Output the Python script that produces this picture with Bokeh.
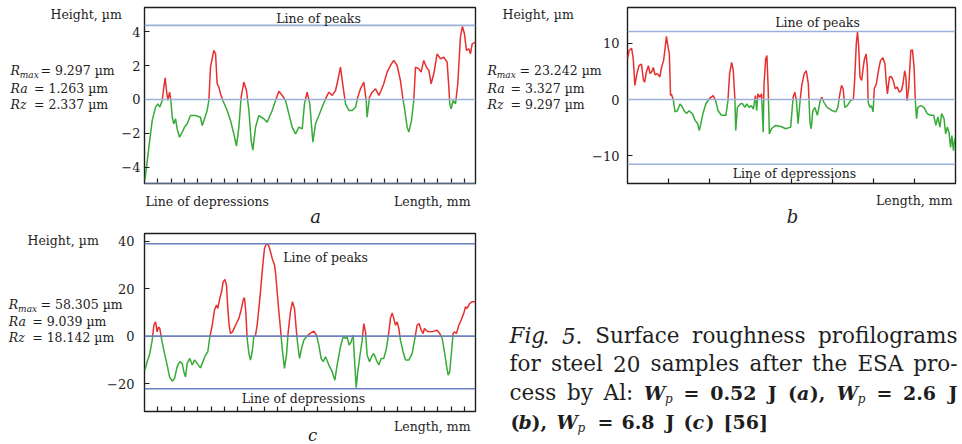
from bokeh.plotting import figure
from bokeh.models import Range1d, Label, FixedTicker, Span, Spacer
from bokeh.layouts import column, row
from bokeh.embed import file_html
from bokeh.resources import INLINE

# ---------------- data ----------------
a_x = [0.03, 0.33, 0.58, 0.83, 1.00, 1.15, 1.33, 1.45, 1.55, 1.65, 1.75, 1.88, 1.98, 2.08, 2.20, 2.33, 2.45, 2.63, 2.83, 3.00,
       3.20, 3.45, 3.83, 4.20, 4.33, 4.50, 4.70, 4.83, 4.95, 5.20, 5.33, 5.45, 5.58, 5.70, 5.88, 6.20, 6.45, 6.70, 6.90, 7.08,
       7.25, 7.45, 7.65, 7.83, 8.00, 8.13, 8.33, 8.58, 8.95, 9.20, 9.58, 9.83, 10.08, 10.33, 10.58, 10.83, 11.08, 11.33, 11.58, 11.83,
       12.00, 12.20, 12.40, 12.50, 12.63, 12.83, 13.08, 13.33, 13.58, 13.83, 14.08, 14.33, 14.50, 14.70, 14.90, 15.08, 15.33, 15.58, 15.83, 16.00,
       16.20, 16.45, 16.63, 16.70, 16.88, 17.08, 17.33, 17.58, 17.75, 17.95, 18.20, 18.45, 18.70, 18.95, 19.20, 19.40, 19.53, 19.70, 19.83, 20.03,
       20.20, 20.33, 20.58, 20.75, 20.95, 21.15, 21.33, 21.50, 21.70, 21.95, 22.20, 22.45, 22.70, 22.83, 22.90, 23.00, 23.15, 23.33, 23.50, 23.70,
       23.85, 24.00, 24.15, 24.33, 24.45, 24.58, 24.83]
a_y = [-4.79, -2.82, -1.24, -0.45, -0.26, -0.45, -0.06, 0.73, 1.28, 0.53, -0.06, 0.43, -0.06, -1.05, -1.44, -1.14, -1.74, -2.23, -1.93, -1.64,
       -1.44, -0.95, -0.95, -1.05, -1.54, -1.14, -0.65, -0.06, 1.91, 2.90, 2.70, 0.93, 0.73, 0.34, -0.06, -0.65, -1.24, -2.03, -2.75, -1.64,
       0.14, 1.03, 0.53, -0.65, -2.43, -3.00, -1.64, -0.95, -1.14, -1.34, -0.65, -0.06, 0.49, 0.24, -0.06, -0.85, -1.64, -2.03, -1.64, -1.74,
       -0.26, 0.43, -0.26, -1.24, -2.52, -1.44, -0.95, -0.45, 0.04, 0.43, 0.24, 0.53, 1.12, 1.91, 0.73, -0.26, -0.65, -0.65, -0.45, 0.14,
       0.63, 1.03, -0.06, -1.05, 0.14, 0.43, 0.63, 0.24, 0.53, 0.93, 1.62, 2.01, 2.31, 2.01, 1.12, -0.06, -0.65, -1.64, -1.93, -1.24,
       -0.06, 1.91, 1.81, 1.62, 2.31, 1.91, 1.72, 0.93, 1.52, 2.70, 2.41, 2.50, 2.21, 0.73, -0.26, -0.55, -0.06, -0.26, 0.93, 3.69,
       4.32, 3.89, 2.90, 3.00, 2.70, 3.29, 3.39]

b_x = [0.00, 0.04, 0.10, 0.14, 0.18, 0.23, 0.28, 0.34, 0.39, 0.42, 0.46, 0.51, 0.55, 0.59, 0.63, 0.67, 0.73, 0.79, 0.83, 0.88,
       0.91, 0.95, 0.99, 1.02, 1.05, 1.07, 1.12, 1.16, 1.22, 1.28, 1.32, 1.38, 1.44, 1.50, 1.58, 1.65, 1.71, 1.75, 1.79, 1.84,
       1.91, 1.99, 2.09, 2.15, 2.21, 2.29, 2.40, 2.45, 2.49, 2.54, 2.58, 2.62, 2.64, 2.68, 2.75, 2.80, 2.86, 2.91, 2.97, 3.02,
       3.07, 3.12, 3.15, 3.18, 3.23, 3.27, 3.31, 3.33, 3.37, 3.40, 3.43, 3.46, 3.51, 3.61, 3.74, 3.86, 3.98, 4.04, 4.08, 4.12,
       4.16, 4.21, 4.25, 4.31, 4.36, 4.41, 4.45, 4.48, 4.52, 4.57, 4.63, 4.70, 4.74, 4.79, 4.87, 5.00, 5.08, 5.13, 5.18, 5.22,
       5.26, 5.30, 5.36, 5.44, 5.51, 5.54, 5.58, 5.61, 5.64, 5.67, 5.71, 5.75, 5.78, 5.82, 5.85, 5.87, 5.91, 5.95, 5.99, 6.02,
       6.07, 6.12, 6.17, 6.23, 6.28, 6.31, 6.34, 6.39, 6.43, 6.48, 6.53, 6.58, 6.63, 6.68, 6.72, 6.76, 6.79, 6.82, 6.86, 6.91,
       6.95, 6.99, 7.02, 7.05, 7.08, 7.15, 7.23, 7.31, 7.39, 7.47, 7.52, 7.57, 7.62, 7.66, 7.72, 7.76, 7.80, 7.84, 7.88, 7.91,
       7.95, 7.98]
b_y = [7.2, 8.7, 9.1, 7.2, 2.5, 4.6, 6.0, 6.3, 3.4, 3.1, 4.9, 6.0, 4.6, 4.9, 5.7, 4.4, 4.6, 4.0, 5.7, 6.9,
       8.7, 11.2, 9.3, 8.1, 0.7, 1.0, -0.2, -2.2, -2.0, -0.8, -1.1, -2.0, -2.5, -2.0, -2.5, -3.7, -4.3, -5.5, -4.3, -2.5,
       -0.8, 0.1, 0.7, -0.2, -2.0, -2.8, -2.8, -0.2, 4.6, 6.6, 5.1, 0.0, -5.5, -1.4, -0.8, -0.7, -1.4, -0.8, -1.4, -1.1,
       -1.7, 0.7, -2.0, 1.0, 0.4, 1.0, -5.8, 2.8, 7.2, 7.8, 2.2, -6.1, -5.2, -4.6, -4.8, -5.2, -4.9, 0.4, 1.3, -0.2,
       -4.3, -0.2, 2.5, 4.6, 5.1, 2.8, -4.0, -5.2, -2.0, -1.4, -2.8, -0.2, 0.4, -0.5, -1.4, -2.0, -2.2, -1.4, 1.0, 2.5,
       1.9, -1.4, -1.1, -0.2, 0.1, 3.4, 9.9, 12.0, 9.3, 4.0, 3.4, 5.7, 7.2, 8.1, 5.7, -0.5, -1.4, -1.1, -2.2, 1.9,
       2.8, 5.1, 6.9, 7.4, 6.3, 3.1, 1.0, 4.0, 4.1, 3.4, 1.9, 2.2, 1.3, 1.6, 2.8, 5.1, 4.0, -0.2, 2.2, 8.7,
       8.8, 5.7, -0.2, -3.4, -1.4, -1.1, -1.4, -2.5, -2.8, -2.8, -4.6, -3.1, -4.9, -2.5, -3.4, -6.1, -4.9, -5.8, -8.5, -6.4,
       -9.1, -6.9]

c_x = [0.03, 0.20, 0.40, 0.58, 0.70, 0.83, 0.95, 1.05, 1.15, 1.25, 1.45, 1.70, 1.88, 2.08, 2.25, 2.45, 2.65, 2.83, 2.95, 3.08,
       3.20, 3.40, 3.58, 3.75, 3.95, 4.20, 4.33, 4.58, 4.75, 4.90, 5.08, 5.25, 5.40, 5.50, 5.65, 5.78, 5.90, 6.03, 6.15, 6.25,
       6.35, 6.45, 6.60, 6.83, 7.08, 7.25, 7.40, 7.50, 7.60, 7.70, 7.83, 7.95, 8.08, 8.20, 8.33, 8.45, 8.58, 8.70, 8.85, 9.00,
       9.15, 9.30, 9.45, 9.58, 9.75, 9.85, 9.95, 10.08, 10.20, 10.33, 10.50, 10.65, 10.78, 10.95, 11.10, 11.25, 11.40, 11.50, 11.63, 11.78,
       11.95, 12.15, 12.40, 12.70, 12.90, 13.08, 13.25, 13.40, 13.58, 13.83, 14.08, 14.28, 14.45, 14.70, 14.90, 15.08, 15.20, 15.35, 15.50, 15.65,
       15.75, 15.88, 16.00, 16.15, 16.33, 16.45, 16.58, 16.70, 16.88, 17.03, 17.20, 17.40, 17.58, 17.75, 17.95, 18.15, 18.33, 18.45, 18.58, 18.70,
       18.83, 18.95, 19.08, 19.20, 19.40, 19.58, 19.83, 20.08, 20.28, 20.45, 20.60, 20.75, 20.90, 21.00, 21.20, 21.45, 21.70, 21.95, 22.15, 22.33,
       22.50, 22.65, 22.78, 22.90, 23.03, 23.15, 23.25, 23.40, 23.58, 23.75, 23.95, 24.08, 24.20, 24.40, 24.58, 24.83]
c_y = [-14.3, -10.8, -7.3, -1.7, 4.6, 6.0, 1.8, 3.9, 3.2, -0.3, -5.9, -12.2, -17.2, -19.0, -17.9, -12.9, -10.8, -11.5, -15.0, -17.2,
       -11.5, -9.4, -12.2, -10.1, -11.5, -13.4, -11.5, -8.0, -6.6, -0.3, 4.6, 11.0, 13.1, 11.7, 15.9, 18.7, 22.9, 23.9, 21.5, 11.7,
       4.6, 1.1, 1.8, 4.6, 7.5, 11.0, 15.2, 16.2, 10.3, -1.0, -7.3, -10.1, -6.6, -0.3, 0.4, 4.6, 11.7, 18.7, 28.6, 37.0,
       39.1, 38.4, 35.6, 32.8, 30.0, 25.7, 18.7, 10.3, 3.2, -5.2, -13.6, -8.0, 1.8, 10.3, 14.5, 11.7, 1.8, -3.8, -9.4, -5.2,
       -1.7, -0.3, 1.1, 2.1, 0.4, -3.8, -9.4, -10.8, -8.7, -12.2, -15.0, -18.6, -12.2, -4.5, -0.3, -1.0, -0.3, -3.8, -2.4, 0.4,
       -9.4, -21.8, -15.0, -8.7, -1.7, 5.3, 1.8, -8.0, -10.8, -8.7, -7.3, -10.1, -12.2, -9.4, -9.4, -5.2, 1.8, 7.5, 9.8, 7.5,
       4.6, 6.0, 3.2, -1.7, -6.6, -10.1, -10.1, -7.3, -1.0, 4.6, 5.3, 2.5, 1.1, 3.2, 2.1, 1.8, 2.1, 2.5, 1.1, -1.0,
       -6.6, -12.2, -16.5, -15.0, -6.6, 1.1, 1.8, 1.1, 4.6, 6.8, 9.6, 12.4, 11.7, 13.8, 14.5, 14.5]

# reference lines (line of peaks, line of depressions)
a_peak, a_depr = 4.38, -4.96
b_peak, b_depr = 12.07, -11.48
c_peak, c_depr = 39.0, -22.2

a_yticks = [-4, -2, 0, 2, 4]
b_yticks = [-10, 0, 10]
c_yticks = [-20, 0, 20, 40]
a_xticks = list(range(1, 25))
b_xticks = list(range(1, 8))
c_xticks = list(range(1, 25))

a_stats = ["9.297", "1.263", "2.337"]
b_stats = ["23.242", "3.327", "9.297"]
c_stats = ["58.305", "9.039", "18.142"]

# ---------------- styling ----------------
RED = "#e6302e"
GREEN = "#38aa38"
BLUE_L = "#9ab1da"
BLUE_D = "#6b80bd"
INK = "#1e1e1e"
FONT = "DejaVu Serif"
FS = "12.5px"


def split_sign(x, y):
    xs, ys, cs = [], [], []
    cx, cy = [x[0]], [y[0]]
    pos = y[0] >= 0
    for i in range(1, len(x)):
        p = y[i] >= 0
        if p != pos:
            t_ = y[i - 1] / (y[i - 1] - y[i])
            xc = x[i - 1] + t_ * (x[i] - x[i - 1])
            cx.append(xc); cy.append(0.0)
            xs.append(cx); ys.append(cy); cs.append(RED if pos else GREEN)
            cx, cy = [xc], [0.0]
            pos = p
        cx.append(x[i]); cy.append(y[i])
    xs.append(cx); ys.append(cy); cs.append(RED if pos else GREEN)
    return xs, ys, cs


def panel(ox, oy, w, h, L, R, T, B, xr, yr):
    f = figure(width=w, height=h, output_backend="svg", toolbar_location=None,
               x_range=Range1d(*xr), y_range=Range1d(*yr),
               min_border_left=L - ox, min_border_right=ox + w - R,
               min_border_top=T - oy, min_border_bottom=oy + h - B,
               background_fill_color=None, border_fill_color=None)
    f.grid.visible = False
    f.outline_line_color = INK
    f.outline_line_width = 1.4
    return f


def style_axes(f, xticks, yticks, standoff):
    xa = f.xaxis[0]
    xa.ticker = FixedTicker(ticks=xticks)
    xa.major_label_overrides = {t: "" for t in xticks}
    xa.major_tick_in = 5
    xa.major_tick_out = 0
    xa.minor_tick_line_color = None
    xa.axis_line_color = None
    xa.major_tick_line_color = INK
    xa.major_tick_line_width = 1.2
    xa.major_label_text_font_size = "1px"
    ya = f.yaxis[0]
    ya.ticker = FixedTicker(ticks=yticks)
    ya.major_label_overrides = {t: (("\u2212" + str(-t)) if t < 0 else str(t)) for t in yticks}
    ya.major_tick_in = 5
    ya.major_tick_out = 0
    ya.minor_tick_line_color = None
    ya.axis_line_color = None
    ya.major_tick_line_color = INK
    ya.major_tick_line_width = 1.2
    ya.major_label_standoff = standoff
    ya.major_label_text_font = FONT
    ya.major_label_text_font_size = "13px"
    ya.major_label_text_color = INK


def draw_profile(f, x, y, peak, depr, blue):
    for loc in (peak, 0.0, depr):
        f.add_layout(Span(location=loc, dimension="width", line_color=blue, line_width=1.6))
    xs, ys, cs = split_sign(x, y)
    f.multi_line(xs, ys, line_color=cs, line_width=1.5)


pa = panel(0, 0, 480, 225, 144, 475, 7, 183, (0, 24.83), (-4.97, 5.44))
style_axes(pa, a_xticks, a_yticks, 4)
draw_profile(pa, a_x, a_y, a_peak, a_depr, BLUE_L)

pb = panel(480, 0, 482, 225, 627, 955, 7, 183, (0, 8), (-14.91, 16.33))
style_axes(pb, b_xticks, b_yticks, 8)
draw_profile(pb, b_x, b_y, b_peak, b_depr, BLUE_L)

pc = panel(0, 225, 480, 219, 144, 475, 233, 411, (0, 24.83), (-31.8, 43.3))
style_axes(pc, c_xticks, c_yticks, 10)
draw_profile(pc, c_x, c_y, c_peak, c_depr, BLUE_D)

# ---------------- transparent text overlay (page pixel coordinates) ----------------
ov = figure(width=962, height=444, output_backend="svg", toolbar_location=None,
            x_range=Range1d(0, 962), y_range=Range1d(444, 0),
            x_axis_location=None, y_axis_location=None,
            min_border=0, min_border_left=0, min_border_right=0, min_border_top=0, min_border_bottom=0,
            background_fill_color=None, border_fill_color=None, margin=(-444, 0, 0, 0))
ov.grid.visible = False
ov.outline_line_color = None


def t(px, py, s, align="left", size=FS, style="normal", baseline="middle"):
    ov.add_layout(Label(x=px, y=py, text=s, text_align=align, text_baseline=baseline,
                        text_font=FONT, text_font_size=size, text_font_style=style, text_color=INK))


def stats_block(x0, ys, stats, eq_r, eq_o):
    t(x0, ys[0], "R", style="italic")
    t(x0 + 9.3, ys[0] + 4, "max", size="9px", style="italic")
    t(eq_r, ys[0], "= " + stats[0] + " \u00b5m")
    t(x0, ys[1], "Ra", style="italic")
    t(eq_o, ys[1], "= " + stats[1] + " \u00b5m")
    t(x0, ys[2], "Rz", style="italic")
    t(eq_o, ys[2], "= " + stats[2] + " \u00b5m")


# panel a texts
t(50, 14, "Height, \u00b5m")
stats_block(10, [70, 88, 104], a_stats, 40, 33.5)
t(318, 18, "Line of peaks", align="center")
t(145, 201, "Line of depressions")
t(470, 201, "Length, mm", align="right")
t(315, 215.5, "a", align="center", size="18px", style="italic")
# panel b texts
t(502, 14, "Height, \u00b5m")
stats_block(487, [70, 88, 104], b_stats, 519, 510)
t(817, 22, "Line of peaks", align="center")
t(794, 173, "Line of depressions", align="center")
t(952, 200, "Length, mm", align="right")
t(792, 215.5, "b", align="center", size="18px", style="italic")
# panel c texts
t(27, 240, "Height, \u00b5m")
stats_block(8.3, [304, 321, 337], c_stats, 40, 31.7)
t(325, 257, "Line of peaks", align="center")
t(303, 398, "Line of depressions", align="center")
t(470, 426, "Length, mm", align="right")
t(312, 435.3, "c", align="center", size="16.5px", style="italic")

# caption
RFS = "21.5px"
BFS = "19px"


def ct(px, py, s, style="normal", size=None, align="left"):
    if size is None:
        size = BFS if "bold" in style else RFS
    t(px, py, s, align=align, size=size, style=style)


L1, L2, L3, L4 = 335, 363, 392, 421
ct(509, L1, "Fig", "italic")
ct(542, L1, ".")
ct(561.5, L1, "5", "italic")
ct(575, L1, ".")
ct(594.7, L1, "Surface")
ct(691.6, L1, "roughness")
ct(957, L1, "profilograms", align="right")

words2 = ["for", "steel", "20", "samples", "after", "the", "ESA"]
x2 = [509, 550.4, 612.6, 650.1, 748.9, 811.5, 856.9]
for w_, xx in zip(words2, x2):
    ct(xx, L2, w_)
ct(957, L2, "pro-", align="right")

ct(509, L3, "cess")
ct(566.5, L3, "by")
ct(603.1, L3, "Al:")
ct(643.4, L3, "W", "bold italic")
ct(664.4, L3 + 6, "p", "italic", size="12px")
ct(683.1, L3, "=", "bold")
ct(709.7, L3, "0.52", "bold")
ct(767.3, L3, "J", "bold")
ct(787.5, L3, "(", "bold")
ct(796.4, L3, "a", "bold italic")
ct(809.2, L3, "),", "bold")
ct(836.2, L3, "W", "bold italic")
ct(857.2, L3 + 6, "p", "italic", size="12px")
ct(875.9, L3, "=", "bold")
ct(902.5, L3, "2.6", "bold")
ct(957, L3, "J", "bold", align="right")

ct(510, L4, "(", "bold")
ct(518, L4, "b", "bold italic")
ct(531, L4, "),", "bold")
ct(556, L4, "W", "bold italic")
ct(577, L4 + 6, "p", "italic", size="12px")
ct(597, L4, "=", "bold")
ct(621, L4, "6.8", "bold")
ct(665, L4, "J", "bold")
ct(683, L4, "(", "bold")
ct(692, L4, "c", "bold italic")
ct(705, L4, ")", "bold")
ct(723, L4, "[56]", "bold")

layout = column(row(pa, pb), row(pc, Spacer(width=482, height=219)), ov)
open("out.html", "w").write(file_html(layout, INLINE))
